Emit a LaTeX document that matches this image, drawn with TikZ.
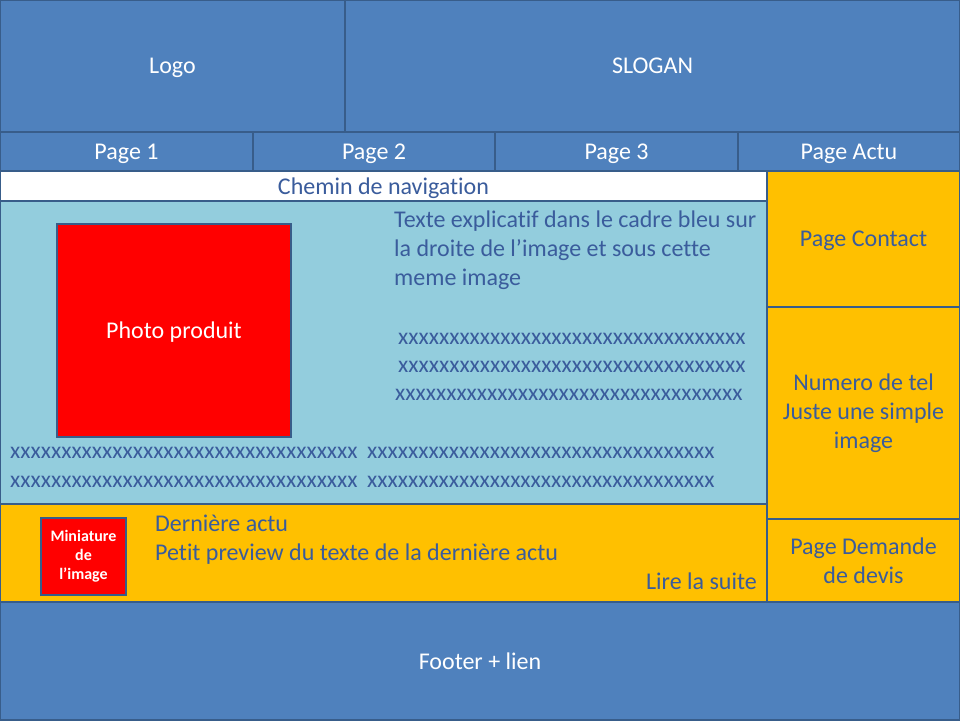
\documentclass[tikz,border=0pt]{standalone}
\usepackage{fontspec}
\setmainfont[Ligatures=NoCommon,RawFeature={-clig}]{Carlito}
\usepackage{xcolor}
\usetikzlibrary{positioning}
\definecolor{bandblue}{HTML}{4F81BD}
\definecolor{edgeblue}{HTML}{385D8A}
\definecolor{paleblue}{HTML}{93CDDD}
\definecolor{gold}{HTML}{FFC000}
\definecolor{inkblue}{HTML}{3A5C9C}
\newcommand\xline{xxxxxxxxxxxxxxxxxxxxxxxxxxxxxxxxxx}

\begin{document}
\begin{tikzpicture}[x=1pt,y=-1pt,
	zone/.style={draw=edgeblue,line width=2pt,anchor=north west,inner sep=0pt,outer sep=0pt,align=center,font=\fontsize{24}{28.8}\selectfont},
	band/.style={zone,fill=bandblue,text=white},
	side/.style={zone,fill=gold,text=inkblue},
	oneline/.style={text depth=0pt},
	bodytext/.style={inner sep=0pt,text=inkblue,font=\fontsize{24}{28.8}\selectfont},
	xtext/.style={bodytext,anchor=base west,font=\fontsize{23.6}{28}\selectfont}]
	\useasboundingbox (0,0) rectangle (960,720);
	% header
	\node[band,oneline,minimum width=345pt,minimum height=132pt] (logo) at (0,0) {Logo};
	\node[band,oneline,minimum width=615pt,minimum height=132pt] (slogan) at (345,0) {SLOGAN};
	% menu
	\node[band,oneline,minimum width=253pt,minimum height=39pt] (page1) at (0,132) {Page 1};
	\node[band,oneline,minimum width=242pt,minimum height=39pt] (page2) at (253,132) {Page 2};
	\node[band,oneline,minimum width=243pt,minimum height=39pt] (page3) at (495,132) {Page 3};
	\node[band,oneline,minimum width=222pt,minimum height=39pt] (actu) at (738,132) {Page Actu};
	% main column
	\node[zone,oneline,fill=white,text=inkblue,minimum width=767pt,minimum height=30pt] (chemin) at (0,171) {Chemin de navigation};
	\node[zone,fill=paleblue,minimum width=767pt,minimum height=303pt] (contenu) at (0,201) {};
	\node[zone,oneline,fill=red,text=white,minimum width=234pt,minimum height=213pt] (photo) at (57,224) {Photo produit};
	\foreach \txt [count=\i from 0] in {Texte explicatif dans le cadre bleu sur,la droite de l’image et sous cette,meme image}
		\node[bodytext,anchor=base west] (expl\i) at (394,227+29*\i) {\txt};
	\node[xtext] (xa) at (398,344) {\xline};
	\node[xtext] (xb) at (398,372) {\xline};
	\node[xtext] (xc) at (395,400) {\xline};
	\foreach \yy [count=\i] in {458,487} {
		\node[xtext] (xl\i) at (10,\yy) {\xline};
		\node[xtext] (xr\i) at (367,\yy) {\xline};
	}
	% last news
	\node[side,minimum width=767pt,minimum height=98pt] (news) at (0,504) {};
	\node[zone,fill=red,text=white,minimum width=85pt,minimum height=77pt,font=\bfseries\fontsize{16}{19.2}\selectfont] (mini) at (41,518) {Miniature\\de\\l’image};
	\node[bodytext,anchor=base west] (newstitle) at (155,531) {Dernière actu};
	\node[bodytext,anchor=base west] (preview) at (155,560) {Petit preview du texte de la dernière actu};
	\node[bodytext,anchor=base east] (suite) at (757,589) {Lire la suite};
	% right column
	\node[side,oneline,minimum width=193pt,minimum height=136pt] (contact) at (767,171) {Page Contact};
	\node[side,minimum width=193pt,minimum height=212pt] (tel) at (767,307) {Numero de tel\\Juste une simple\\image};
	\node[side,minimum width=193pt,minimum height=83pt] (devis) at (767,519) {Page Demande\\de devis};
	% footer
	\node[band,oneline,minimum width=960pt,minimum height=118pt] (footer) at (0,602) {Footer + lien};
\end{tikzpicture}
\end{document}
